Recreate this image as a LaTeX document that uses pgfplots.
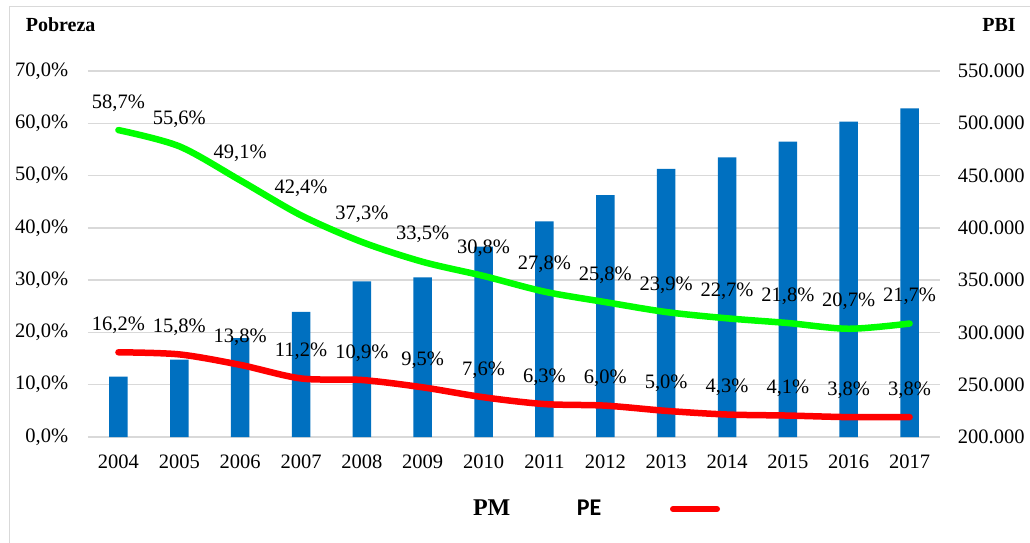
\documentclass[border=0pt]{standalone}
\usepackage{fontspec}
\setmainfont{Liberation Serif}
\newfontfamily\calib{Carlito}
\usepackage{pgfplots}
\usepackage{pgfplotstable}
\pgfplotsset{compat=1.18}

\definecolor{barblue}{HTML}{0070C0}
\definecolor{gridgray}{HTML}{D9D9D9}
\definecolor{pmgreen}{HTML}{00FF00}
\definecolor{pered}{HTML}{FF0000}

% PBI (millones) y pobreza monetaria (PM) / extrema (PE), en %
\pgfplotstableread{
year gdp    pm   pe
2004 257770 58.7 16.2
2005 273971 55.6 15.8
2006 294598 49.1 13.8
2007 319693 42.4 11.2
2008 348870 37.3 10.9
2009 352693 33.5 9.5
2010 382081 30.8 7.6
2011 406256 27.8 6.3
2012 431199 25.8 6.0
2013 456435 23.9 5.0
2014 467308 22.7 4.3
2015 482506 21.8 4.1
2016 501581 20.7 3.8
2017 514215 21.7 3.8
}\datos

\begin{document}
\fontsize{20}{24}\selectfont
\begin{tikzpicture}
\useasboundingbox (-88pt,-106pt) rectangle (942pt,437pt);
\fill[white] (-88pt,-106pt) rectangle (942pt,437pt);
\draw[gridgray, line width=1pt] (-78pt,-120pt) -- (-78pt,430pt) -- (960pt,430pt);

\pgfplotsset{
  base/.style={
    scale only axis, width=852pt, height=366pt,
    at={(0pt,0pt)}, anchor=south west,
    xmin=2003.5, xmax=2017.5, xtick=data,
    major tick length=0pt,
    axis line style={draw=none},
    scaled y ticks=false,
    tick label style={font=\rmfamily\fontsize{20.5}{24}\selectfont},
  }
}

% barras: PBI, eje derecho
\begin{axis}[base,
    ymin=200000, ymax=550000,
    ytick={200000,250000,300000,350000,400000,450000,500000,550000},
    yticklabels={200.000,250.000,300.000,350.000,400.000,450.000,500.000,550.000},
    yticklabel pos=right,
    yticklabel shift=11pt,
    ymajorgrids,
    grid style={gridgray, line width=1.5pt},
    xticklabels={},
  ]
  \addplot[ybar, bar width=18.5pt, fill=barblue, draw=none] table[x=year, y=gdp] {\datos};
\end{axis}

% lineas: pobreza, eje izquierdo
\begin{axis}[base,
    ymin=0, ymax=70,
    ytick={0,10,20,30,40,50,60,70},
    yticklabels={{0,0\%},{10,0\%},{20,0\%},{30,0\%},{40,0\%},{50,0\%},{60,0\%},{70,0\%}},
    yticklabel pos=left,
    yticklabel shift=13pt,
    xticklabels={2004,2005,2006,2007,2008,2009,2010,2011,2012,2013,2014,2015,2016,2017},
    xticklabel shift=11pt,
    clip=false,
    point meta=y,
    nodes near coords={\pgfmathprintnumber[fixed,fixed zerofill,precision=1,use comma,assume math mode=true]{\pgfplotspointmeta}\%},
    every node near coord/.append style={anchor=base, yshift=22pt, text=black,
      font=\rmfamily\fontsize{20.5}{24}\selectfont},
  ]
  \addplot[pmgreen, line width=6.5pt, line cap=round, smooth, tension=0.5, mark=none]
    table[x=year, y=pm] {\datos};
  \addplot[pered, line width=6.5pt, line cap=round, smooth, tension=0.5, mark=none]
    table[x=year, y=pe] {\datos};
\end{axis}

\node[anchor=base west, font=\rmfamily\bfseries\fontsize{20}{24}\selectfont] at (-69pt,405pt) {Pobreza};
\node[anchor=base, font=\rmfamily\bfseries\fontsize{20}{24}\selectfont] at (911pt,405pt) {PBI};

% leyenda
\node[font=\rmfamily\bfseries\fontsize{24}{28}\selectfont] at (403.7pt,-71pt) {PM};
\node[font=\calib\bfseries\fontsize{24}{28}\selectfont] at (501pt,-71pt) {PE};
\draw[pered, line width=6pt, line cap=round] (585pt,-72pt) -- (629pt,-72pt);
\end{tikzpicture}
\end{document}
